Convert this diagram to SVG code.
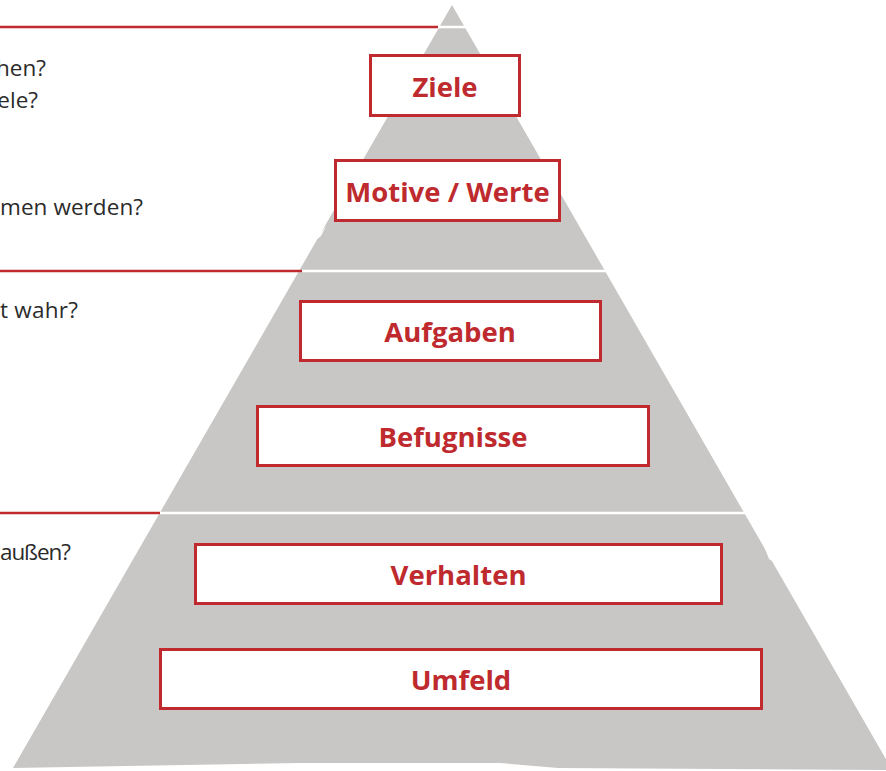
<svg xmlns="http://www.w3.org/2000/svg" width="886" height="771" viewBox="0 0 886 771">
<defs>
<style>
.box{fill:#ffffff;stroke:#C0292E;stroke-width:3}
.lbl{font-family:"Open Sans","Noto Sans",sans-serif;font-weight:bold;font-size:27.5px;fill:#BE2A2E;text-anchor:middle}
.q{font-family:"Open Sans","Noto Sans",sans-serif;font-size:22.5px;fill:#2B2B2B}
.sep{stroke:#ffffff;stroke-width:2.5}
.red{stroke:#C0292E;stroke-width:2.6}
</style>
</defs>
<rect width="886" height="771" fill="#ffffff"/>
<g id="pyramid">
<polygon points="452,5 891,768 886,770 558,768 500,763 300,763 13,768" fill="#C8C7C6"/>
<line class="sep" x1="420" y1="27" x2="490" y2="27"/>
<line class="sep" x1="290" y1="271" x2="620" y2="271"/>
<line class="sep" x1="150" y1="513" x2="760" y2="513"/>
<polygon points="318,236 326,226 321,236 316,240" fill="#ffffff"/>
<polygon points="757,528 760,530 772,561 769,559" fill="#ffffff"/>
</g>
<g id="connectors">
<line class="red" x1="0" y1="27" x2="438" y2="27"/>
<line class="red" x1="0" y1="271" x2="302" y2="271"/>
<line class="red" x1="0" y1="513" x2="160" y2="513"/>
</g>
<g id="questions">
<text class="q" x="46" y="76" text-anchor="end">hen?</text>
<text class="q" x="38" y="108" text-anchor="end">ele?</text>
<text class="q" x="0" y="215" textLength="143">men werden?</text>
<text class="q" x="0" y="318" textLength="78">t wahr?</text>
<text class="q" x="0" y="560" textLength="71">außen?</text>
</g>
<g id="ziele">
<rect class="box" x="370.5" y="55.5" width="149" height="60"/>
<text class="lbl" x="445" y="97">Ziele</text>
</g>
<g id="motive">
<rect class="box" x="335.5" y="160.5" width="224" height="60"/>
<text class="lbl" x="447.5" y="202">Motive / Werte</text>
</g>
<g id="aufgaben">
<rect class="box" x="300.5" y="301.5" width="300" height="59"/>
<text class="lbl" x="450" y="342">Aufgaben</text>
</g>
<g id="befugnisse">
<rect class="box" x="257.5" y="406.5" width="391" height="59"/>
<text class="lbl" x="453" y="447">Befugnisse</text>
</g>
<g id="verhalten">
<rect class="box" x="195.5" y="544.5" width="526" height="59"/>
<text class="lbl" x="458.5" y="585">Verhalten</text>
</g>
<g id="umfeld">
<rect class="box" x="160.5" y="649.5" width="601" height="59"/>
<text class="lbl" x="461" y="690">Umfeld</text>
</g>
</svg>
